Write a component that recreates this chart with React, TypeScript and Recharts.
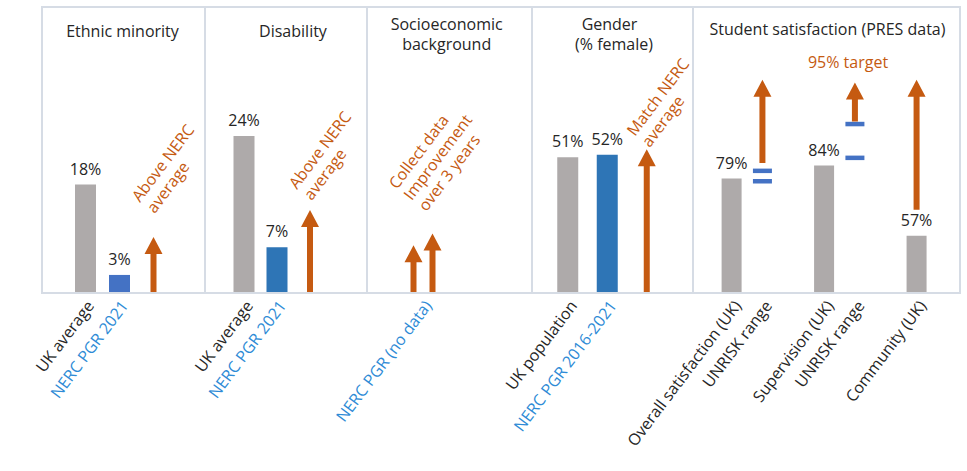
import { ComposedChart, Bar, XAxis, YAxis, LabelList, Cell } from 'recharts'

const ORANGE = '#C55A11'
const GREY = '#AEAAAA'
const BLUE = '#2E75B6'
const BLUE_LIGHT = '#4472C4'
const INK = '#262626'
const TICK_BLUE = '#2E8BD6'
const BORDER = '#D6DCE5'
const FONT = '"Open Sans", sans-serif'
const BLEED = 200 // extra room on the left so rotated tick labels are not clipped

// Ethnic minority
const ethnicCats = ['UK average', 'NERC PGR 2021', '']
const ethnicValues = [18, 3, null]
const ethnicArrow = [null, null, [0, 9.3]]

// Disability
const disabilityCats = ['UK average', 'NERC PGR 2021', '']
const disabilityValues = [24, 7, null]
const disabilityArrow = [null, null, [0, 12.7]]

// Socioeconomic background (no data, two arrows)
const socioCats = ['NERC PGR (no data)']
const socioArrowCollect = [[0, 8]]
const socioArrowImprove = [[0, 10]]

// Gender (% female)
const genderCats = ['UK population', 'NERC PGR 2016-2021', '']
const genderValues = [51, 52, null]
const genderArrow = [null, null, [0, 54]]

// Student satisfaction (PRES data)
const presCats = ['Overall satisfaction (UK)', 'UNRISK range', '', 'Supervision (UK)', 'UNRISK range', '', 'Community (UK)']
const presValues = [79, null, null, 84, null, null, 57]
const presUnrisk = [null, [78, 82], null, null, [87, 100], null, null]
const presArrow = [null, [85, 117], null, null, [101, 116], null, [67, 117]]

const Arrow = (p: any) => {
  const { x, y, width, height } = p
  if (height == null || !isFinite(height) || !isFinite(y)) return null
  const top = Math.min(y, y + height)
  const bottom = Math.max(y, y + height)
  const cx = x + width / 2
  const hw = 9
  const hh = 17
  const sw = 3
  const pts = [
    [cx, top], [cx + hw, top + hh], [cx + sw, top + hh], [cx + sw, bottom],
    [cx - sw, bottom], [cx - sw, top + hh], [cx - hw, top + hh],
  ].map(q => q.join(',')).join(' ')
  return <polygon points={pts} fill={ORANGE} />
}

const Dashes = (p: any) => {
  const { x, y, width, height } = p
  if (height == null || !isFinite(height) || !isFinite(y)) return null
  const top = Math.min(y, y + height)
  const bottom = Math.max(y, y + height)
  const cx = x + width / 2
  return (
    <g fill={BLUE_LIGHT}>
      <rect x={cx - 9.5} y={top - 2.2} width={19} height={4.5} />
      <rect x={cx - 9.5} y={bottom - 2.2} width={19} height={4.5} />
    </g>
  )
}

const Tick = (p: any) => {
  const { x, y, payload } = p
  const label = String(payload.value ?? '')
  if (!label) return null
  const tx = x + 10
  const ty = y + 5
  return (
    <text x={tx} y={ty} transform={`rotate(-53, ${tx}, ${ty})`} textAnchor="end"
      fontFamily={FONT} fontSize={16} fill={label.startsWith('NERC') ? TICK_BLUE : INK}>
      {label}
    </text>
  )
}

type PanelProps = {
  left: number
  width: number
  padL: number
  padR: number
  cats: string[]
  domain: [number, number]
  values?: (number | null)[]
  colors?: string[]
  ranges?: (number[] | null)[]
  arrows: (number[] | null)[][]
  barSize: number
  barGap: number
}

function Panel({ left, width, padL, padR, cats, domain, values, colors, ranges, arrows, barSize, barGap }: PanelProps) {
  const rows = cats.map((name, i) => {
    const row: any = { name }
    if (values) row.value = values[i]
    if (ranges) row.range = ranges[i]
    arrows.forEach((a, k) => { row['arrow' + k] = a[i] })
    return row
  })
  return (
    <div style={{ position: 'absolute', left: left - BLEED, top: 0 }}>
      <ComposedChart width={width + BLEED} height={471} data={rows} barSize={barSize} barGap={barGap}
        margin={{ top: 7, right: padR, bottom: 0, left: padL + BLEED }}>
        <XAxis dataKey="name" height={178} interval={0} tickLine={false} axisLine={false} tick={<Tick />} />
        <YAxis hide type="number" domain={domain} allowDataOverflow />
        {values && (
          <Bar dataKey="value" isAnimationActive={false}>
            {rows.map((_, i) => <Cell key={i} fill={colors ? colors[i] : GREY} />)}
            <LabelList dataKey="value" position="top" offset={10} fill={INK} fontSize={16} fontFamily={FONT}
              formatter={(v: any) => (v == null ? '' : `${v}%`)} />
          </Bar>
        )}
        {ranges && <Bar dataKey="range" shape={<Dashes />} isAnimationActive={false} />}
        {arrows.map((_, k) => (
          <Bar key={k} dataKey={'arrow' + k} shape={<Arrow />} isAnimationActive={false} />
        ))}
      </ComposedChart>
    </div>
  )
}

const titles = [
  { x: 122.5, y: 37, text: 'Ethnic minority' },
  { x: 293, y: 37, text: 'Disability' },
  { x: 446.7, y: 29.5, text: 'Socioeconomic' },
  { x: 446.7, y: 50, text: 'background' },
  { x: 609.5, y: 29.5, text: 'Gender' },
  { x: 614, y: 50, text: '(% female)' },
  { x: 827.5, y: 35, text: 'Student satisfaction (PRES data)' },
]

const notes = [
  { x: 140, y: 203, lines: ['Above NERC', 'average'] },
  { x: 297, y: 190, lines: ['Above NERC', 'average'] },
  { x: 397, y: 190, lines: ['Collect data', 'Improvement', 'over 3 years'] },
  { x: 635, y: 137, lines: ['Match NERC', 'average'] },
]

const dividers = [205, 367, 532, 693]

export default function App() {
  return (
    <div style={{ position: 'absolute', left: 0, top: 0, width: 967, height: 471, background: '#fff', overflow: 'hidden' }}>
      <Panel left={42} width={163} padL={26} padR={35} cats={ethnicCats} domain={[0, 47.5]}
        values={ethnicValues} colors={[GREY, BLUE_LIGHT, GREY]} arrows={[ethnicArrow]} barSize={21} barGap={-21} />
      <Panel left={205} width={162} padL={22.5} padR={40.5} cats={disabilityCats} domain={[0, 43.7]}
        values={disabilityValues} colors={[GREY, BLUE, GREY]} arrows={[disabilityArrow]} barSize={21} barGap={-21} />
      <Panel left={367} width={165} padL={35.5} padR={89.5} cats={socioCats} domain={[0, 48]}
        arrows={[socioArrowCollect, socioArrowImprove]} barSize={16} barGap={3} />
      <Panel left={532} width={161} padL={16.25} padR={26.25} cats={genderCats} domain={[0, 107.5]}
        values={genderValues} colors={[GREY, BLUE, GREY]} arrows={[genderArrow]} barSize={21} barGap={-21} />
      <Panel left={693} width={267} padL={23.6} padR={27.6} cats={presCats} domain={[35, 145]}
        values={presValues} ranges={presUnrisk} arrows={[presArrow]} barSize={20} barGap={-20} />
      <svg width={967} height={471} style={{ position: 'absolute', left: 0, top: 0, pointerEvents: 'none' }}>
        <rect x={42} y={7} width={918} height={286} fill="none" stroke={BORDER} strokeWidth={2} />
        {dividers.map(d => <line key={d} x1={d} x2={d} y1={7} y2={293} stroke={BORDER} strokeWidth={2} />)}
        {titles.map((t, i) => (
          <text key={i} x={t.x} y={t.y} textAnchor="middle" fontFamily={FONT} fontSize={16} fill={INK}>{t.text}</text>
        ))}
        <text x={848} y={68} textAnchor="middle" fontFamily={FONT} fontSize={16} fill={ORANGE}>95% target</text>
        {notes.map((n, i) => (
          <g key={i} transform={`translate(${n.x},${n.y}) rotate(-53)`}>
            <text fontFamily={FONT} fontSize={16} fill={ORANGE}>
              {n.lines.map((l, j) => <tspan key={j} x={0} y={j * 18.5}>{l}</tspan>)}
            </text>
          </g>
        ))}
      </svg>
    </div>
  )
}
